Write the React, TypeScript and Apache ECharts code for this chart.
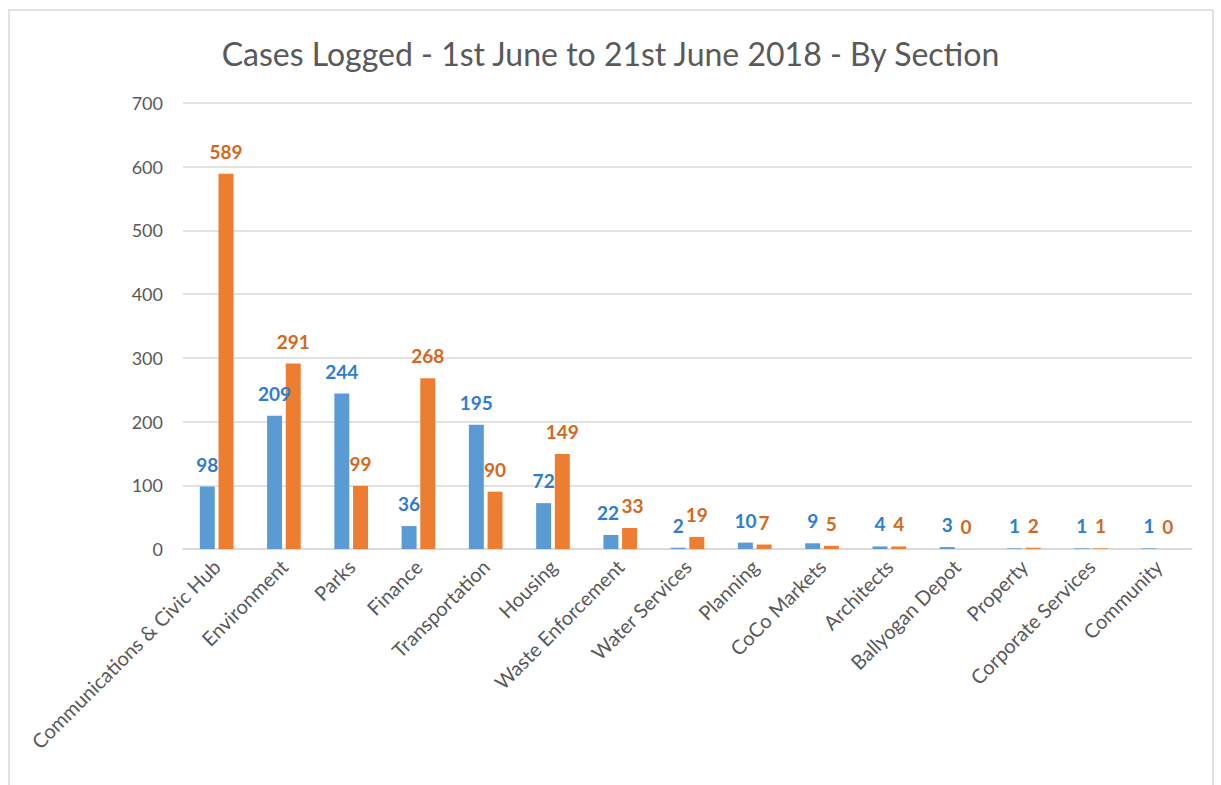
import React, { useEffect, useRef } from "react";
import * as echarts from "echarts";

const categories = [
  "Communications & Civic Hub",
  "Environment",
  "Parks",
  "Finance",
  "Transportation",
  "Housing",
  "Waste Enforcement",
  "Water Services",
  "Planning",
  "CoCo Markets",
  "Architects",
  "Ballyogan Depot",
  "Property",
  "Corporate Services",
  "Community",
];
const seriesBlue = [98, 209, 244, 36, 195, 72, 22, 2, 10, 9, 4, 3, 1, 1, 1];
const seriesOrange = [589, 291, 99, 268, 90, 149, 33, 19, 7, 5, 4, 0, 2, 1, 0];
const titleText = "Cases Logged - 1st June to 21st June 2018 - By Section";

export default function App() {
  const ref = useRef<HTMLDivElement>(null);
  useEffect(() => {
    if (!ref.current) return;
    const chart = echarts.init(ref.current, null, { renderer: "svg" });
    const font = "Lato, 'Open Sans', sans-serif";
    // nudge the tightly packed "22"/"33" labels apart a little
    const blueData = seriesBlue.map((v, i) =>
      categories[i] === "Waste Enforcement" ? { value: v, label: { offset: [-3, 0] } } : v
    );
    const orangeData = seriesOrange.map((v, i) =>
      categories[i] === "Waste Enforcement" ? { value: v, label: { offset: [3, 0] } } : v
    );
    chart.setOption({
      animation: false,
      backgroundColor: "#ffffff",
      title: {
        text: titleText,
        left: "center",
        top: 32,
        textStyle: { fontFamily: font, fontSize: 32, fontWeight: "normal", color: "#595959" },
      },
      graphic: [
        {
          type: "rect",
          shape: { x: 9, y: 10, width: 1204, height: 800 },
          style: { fill: "none", stroke: "#d9d9d9", lineWidth: 1.5 },
          silent: true,
        },
      ],
      grid: { left: 183, right: 29, top: 103, bottom: 236, containLabel: false },
      xAxis: {
        type: "category",
        data: categories,
        axisLine: { lineStyle: { color: "#d9d9d9", width: 1.5 } },
        axisTick: { show: false },
        axisLabel: {
          rotate: 45,
          interval: 0,
          color: "#595959",
          fontFamily: font,
          fontSize: 20,
          margin: 14,
        },
      },
      yAxis: {
        type: "value",
        min: 0,
        max: 700,
        interval: 100,
        axisLine: { show: false },
        axisTick: { show: false },
        splitLine: { lineStyle: { color: "#d9d9d9", width: 1.5 } },
        axisLabel: { color: "#595959", fontFamily: font, fontSize: 18, margin: 20 },
      },
      series: [
        {
          type: "bar",
          data: blueData,
          barGap: "25%",
          barCategoryGap: "50%",
          itemStyle: { color: "#5b9bd5" },
          label: {
            show: true,
            position: "top",
            distance: 13,
            color: "#2e7dd1",
            fontFamily: font,
            fontSize: 19,
            fontWeight: "bold",
          },
        },
        {
          type: "bar",
          data: orangeData,
          barGap: "25%",
          barCategoryGap: "50%",
          itemStyle: { color: "#ed7d31" },
          label: {
            show: true,
            position: "top",
            distance: 13,
            color: "#d2691e",
            fontFamily: font,
            fontSize: 19,
            fontWeight: "bold",
          },
        },
      ],
    });
    return () => chart.dispose();
  }, []);
  return (
    <div
      ref={ref}
      style={{ position: "absolute", left: 0, top: 0, width: 1221, height: 785 }}
    />
  );
}
